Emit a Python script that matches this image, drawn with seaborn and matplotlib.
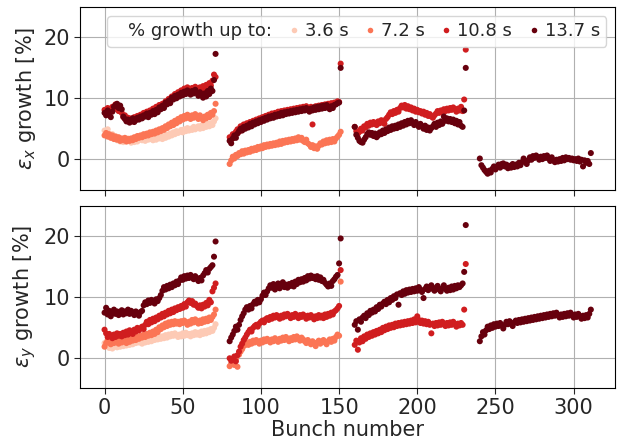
import numpy as np
import pandas as pd
import matplotlib
matplotlib.use("Agg")
import matplotlib.pyplot as plt
from matplotlib.lines import Line2D
import seaborn as sns

# DATOS
delays = ['3.6 s', '7.2 s', '10.8 s', '13.7 s']
train_starts = [0, 80, 160, 240]

# --- plano horizontal (eps_x) ---
ex_t1_36 = [4.7, 4.3, 4.9, 4.0, 3.6, 4.1, 3.4, 3.8, 3.1, 3.5, 2.9, 3.3,
            2.8, 3.2, 2.9, 3.4, 3.0, 2.7, 3.1, 2.8, 3.3, 2.9, 3.2, 3.5,
            3.1, 3.4, 3.0, 3.5, 3.2, 3.6, 3.3, 3.1, 3.5, 3.2, 3.6, 3.4,
            3.7, 3.3, 3.8, 3.5, 4.0, 3.7, 4.2, 3.9, 4.4, 4.1, 4.6, 4.3,
            4.5, 4.8, 4.4, 4.9, 4.6, 5.1, 4.7, 5.0, 4.8, 5.3, 4.9, 5.2,
            5.4, 5.0, 5.5, 5.1, 5.6, 5.3, 5.8, 5.4, 5.9, 5.6, 6.2, 6.7]
ex_t1_72 = [3.9, 4.3, 3.7, 4.1, 3.5, 3.9, 3.3, 3.7, 3.2, 3.6, 3.0, 3.4,
            3.1, 3.5, 2.9, 3.3, 3.0, 3.4, 3.1, 3.6, 3.3, 3.8, 3.5, 3.9,
            3.6, 4.1, 3.8, 4.2, 3.9, 4.4, 4.1, 4.5, 4.2, 4.7, 4.4, 4.9,
            4.6, 5.1, 4.8, 5.4, 5.1, 5.7, 5.4, 6.0, 5.6, 6.3, 5.9, 6.6,
            6.2, 6.9, 6.5, 7.1, 6.7, 7.3, 6.9, 6.6, 7.2, 6.8, 7.4, 7.0,
            6.6, 7.2, 6.8, 6.4, 7.0, 6.7, 7.3, 6.9, 7.6, 7.3, 7.9, 9.1]
ex_t1_108 = [8.1, 7.7, 8.4, 7.3, 8.0, 8.6, 8.2, 9.0, 8.5, 7.9, 8.3, 7.6,
             6.9, 7.2, 6.5, 6.8, 6.3, 6.7, 6.2, 6.9, 6.6, 7.1, 6.8, 7.3,
             7.0, 7.6, 7.2, 7.8, 7.4, 8.0, 7.7, 8.3, 7.9, 8.6, 8.2, 8.9,
             8.5, 9.1, 8.8, 9.5, 9.2, 9.9, 9.6, 10.3, 10.0, 10.7, 10.4, 11.0,
             10.7, 11.3, 10.9, 11.6, 11.2, 11.8, 11.4, 11.1, 11.7, 11.3, 11.9, 11.5,
             11.2, 11.8, 11.4, 12.0, 11.6, 12.2, 11.8, 12.5, 12.1, 12.9, 13.9, 13.5]
ex_t1_137 = [7.6, 7.2, 8.0, 7.5, 6.9, 7.8, 8.6, 8.9, 9.1, 8.4, 8.8, 8.2,
             7.0, 6.6, 6.2, 6.5, 6.0, 6.3, 6.7, 6.1, 6.4, 6.8, 6.5, 7.0,
             6.7, 7.2, 7.0, 7.5, 6.9, 7.6, 7.3, 7.9, 7.4, 8.1, 7.7, 8.5,
             8.2, 8.8, 8.4, 9.3, 9.0, 9.6, 9.2, 10.1, 9.8, 10.4, 10.0, 10.6,
             10.3, 10.9, 10.5, 11.1, 10.7, 11.3, 10.9, 10.6, 11.2, 10.8, 11.4, 10.9,
             10.4, 11.0, 10.6, 10.1, 10.8, 10.3, 11.2, 10.7, 11.6, 11.2, 13.0, 17.3]
ex_t2_72 = [-0.8, -0.2, 0.4, 0.1, 0.7, 0.5, 1.0, 0.8, 1.3, 0.9, 1.4, 1.1,
            1.5, 1.2, 1.7, 1.4, 1.8, 1.5, 2.0, 1.7, 2.1, 1.8, 2.3, 2.0,
            2.4, 2.1, 2.5, 2.2, 2.6, 2.3, 2.7, 2.4, 2.9, 2.5, 3.0, 2.7,
            3.1, 2.8, 3.2, 2.9, 3.3, 3.0, 3.4, 3.1, 3.6, 3.2, 3.5, 3.0,
            2.8, 3.2, 2.6, 2.4, 2.0, 2.3, 1.8, 2.1, 1.7, 2.2, 2.6, 2.4,
            2.9, 2.6, 3.1, 2.7, 3.2, 2.8, 3.3, 2.9, 3.4, 3.7, 4.0, 4.5]
ex_t2_108 = [3.6, 3.2, 4.1, 3.7, 4.5, 4.9, 4.5, 5.4, 5.1, 5.7, 5.3, 5.9,
             5.6, 6.1, 5.8, 6.3, 6.0, 6.5, 6.2, 6.7, 6.4, 6.9, 6.6, 7.1,
             6.8, 7.3, 7.0, 7.5, 7.2, 7.6, 7.3, 7.8, 7.5, 7.9, 7.6, 8.0,
             7.7, 8.1, 7.8, 8.2, 7.9, 8.3, 8.0, 8.4, 8.1, 8.5, 8.2, 8.6,
             8.3, 8.7, 8.4, 8.1, 8.6, 5.7, 8.2, 8.7, 8.3, 8.8, 8.4, 8.9,
             8.5, 9.0, 8.6, 9.1, 8.7, 9.2, 8.8, 9.3, 9.1, 9.5, 9.4, 15.7]
ex_t2_137 = [3.0, 2.6, 3.4, 3.9, 3.5, 4.2, 4.6, 5.0, 4.7, 5.3, 5.0, 5.5,
             5.2, 5.8, 5.4, 6.0, 5.7, 6.2, 5.9, 6.4, 6.1, 6.6, 6.3, 6.8,
             6.5, 7.0, 6.7, 7.1, 6.8, 7.3, 7.0, 7.4, 7.1, 7.6, 7.2, 7.7,
             7.4, 7.8, 7.5, 7.9, 7.6, 8.0, 7.7, 8.1, 7.8, 8.2, 7.9, 8.3,
             8.0, 8.4, 8.1, 7.8, 8.3, 8.0, 8.5, 8.1, 8.6, 8.2, 8.7, 8.3,
             8.8, 8.4, 8.9, 8.5, 8.2, 8.7, 8.4, 8.9, 9.0, 9.2, 9.3, 15.0]
ex_t3_108 = [5.3, 4.6, 4.2, 4.5, 5.0, 4.7, 5.4, 5.2, 5.8, 5.5, 6.0, 5.7,
             6.1, 5.8, 5.6, 6.2, 5.9, 6.4, 6.1, 5.8, 6.6, 6.9, 7.3, 7.7,
             7.4, 7.9, 7.6, 8.1, 7.8, 8.4, 8.8, 8.5, 8.9, 8.3, 8.7, 8.2,
             8.5, 8.0, 8.3, 7.8, 8.1, 7.7, 7.9, 7.5, 7.8, 7.3, 7.6, 7.1,
             7.4, 7.0, 6.8, 7.2, 7.5, 7.9, 7.6, 8.0, 7.7, 8.2, 7.9, 8.3,
             8.0, 8.4, 8.1, 8.5, 8.2, 7.8, 8.3, 8.0, 8.6, 7.9, 9.8, 18.0]
ex_t3_137 = [5.3, 4.0, 3.5, 3.0, 2.8, 2.7, 3.2, 3.6, 4.1, 4.4, 4.0, 4.3,
             3.8, 4.2, 3.6, 3.9, 4.4, 4.1, 4.7, 4.3, 4.9, 4.6, 5.2, 4.8,
             5.4, 5.0, 5.5, 5.1, 5.7, 5.3, 5.9, 5.5, 6.1, 5.7, 6.3, 5.9,
             6.4, 6.0, 5.6, 6.1, 5.7, 5.3, 5.8, 5.4, 5.0, 5.5, 4.8, 5.2,
             4.7, 5.1, 5.4, 5.8, 5.3, 6.0, 5.6, 6.2, 5.8, 7.0, 6.3, 6.7,
             6.2, 6.6, 6.1, 6.5, 5.9, 6.3, 5.7, 6.1, 5.5, 5.3, 8.0, 15.0]
ex_t4_137 = [0.1, -1.0, -1.4, -1.8, -2.1, -2.4, -1.9, -2.2, -1.6, -1.2, -1.7, -1.3,
             -0.9, -1.4, -0.8, -0.7, -1.2, -0.9, -1.5, -1.1, -1.4, -0.8, -1.3, -0.9,
             -1.2, -0.6, -1.0, -0.5, 0.1, -0.4, -0.8, -0.2, 0.3, -0.1, 0.5, 0.2,
             0.6, 0.3, -0.1, 0.4, 0.0, 0.5, 0.2, 0.6, 0.1, -0.3, 0.3, -0.2,
             -0.5, -0.1, -0.4, 0.0, -0.3, 0.2, -0.2, 0.3, 0.0, 0.2, -0.1, 0.1,
             -0.2, 0.0, -0.3, 0.1, -0.4, -0.1, -1.2, -0.2, -0.6, -0.3, -0.8, 1.0]

# --- plano vertical (eps_y) ---
ey_t1_36 = [2.4, 1.9, 2.3, 1.6, 2.0, 1.5, 1.9, 2.2, 1.7, 2.1, 1.8, 2.3,
            1.9, 2.4, 2.0, 2.5, 2.1, 2.6, 2.2, 2.8, 2.4, 2.9, 2.5, 2.7,
            2.3, 2.8, 2.5, 3.0, 2.6, 3.1, 2.7, 3.2, 2.9, 3.3, 3.0, 3.4,
            3.1, 3.5, 3.2, 3.7, 3.3, 3.8, 3.5, 3.9, 3.6, 4.0, 3.7, 3.4,
            3.8, 3.5, 4.0, 3.6, 4.1, 3.7, 3.9, 3.5, 4.0, 3.7, 4.2, 3.8,
            4.1, 3.7, 4.3, 3.9, 4.4, 4.0, 4.5, 4.2, 4.7, 4.4, 4.9, 5.5]
ey_t1_72 = [1.8, 2.4, 2.9, 2.5, 2.2, 2.8, 2.4, 3.0, 2.6, 2.3, 2.9, 2.5,
            3.1, 2.7, 2.4, 3.0, 2.6, 3.2, 2.8, 3.3, 2.9, 3.5, 3.1, 3.6,
            3.3, 3.8, 3.4, 3.9, 3.6, 4.1, 3.7, 4.3, 3.9, 4.6, 4.2, 5.0,
            4.7, 5.3, 5.0, 5.6, 5.2, 5.8, 5.4, 5.9, 5.5, 6.0, 5.6, 5.9,
            5.5, 6.0, 5.7, 6.1, 5.8, 5.4, 5.9, 5.6, 6.2, 5.8, 6.3, 5.9,
            5.6, 6.1, 5.7, 6.3, 5.9, 6.4, 6.0, 6.6, 6.2, 6.7, 7.1, 7.9]
ey_t1_108 = [4.6, 4.0, 3.4, 3.9, 3.5, 3.2, 3.8, 3.4, 4.0, 3.6, 3.9, 3.5,
             4.1, 3.7, 4.3, 3.8, 4.5, 4.1, 3.9, 4.6, 4.3, 4.9, 4.5, 4.8,
             5.1, 4.7, 5.4, 5.9, 5.5, 6.2, 5.8, 6.4, 6.0, 6.6, 6.3, 6.9,
             6.6, 7.2, 6.8, 7.4, 7.1, 7.7, 7.3, 7.9, 7.5, 8.1, 7.8, 8.3,
             8.0, 8.5, 8.2, 8.8, 8.4, 9.1, 9.4, 9.0, 9.3, 8.7, 8.9, 8.5,
             8.2, 8.6, 8.1, 8.7, 8.4, 9.0, 8.6, 9.5, 9.1, 10.9, 11.5, 12.2]
ey_t1_137 = [7.4, 8.2, 7.1, 7.7, 6.8, 7.3, 7.9, 7.2, 7.6, 7.0, 7.5, 7.8,
             7.1, 7.6, 7.3, 7.9, 7.2, 7.7, 7.4, 7.0, 7.6, 7.3, 6.9, 7.5,
             7.7, 8.6, 9.1, 8.8, 9.4, 9.0, 9.5, 9.2, 8.9, 9.6, 9.3, 9.8,
             10.3, 11.0, 11.6, 11.2, 11.8, 11.4, 12.0, 11.6, 12.2, 11.9, 12.5, 12.1,
             12.7, 13.2, 12.8, 13.4, 13.0, 13.5, 13.1, 13.6, 13.2, 12.9, 13.4, 13.0,
             12.6, 13.1, 12.7, 13.5, 13.9, 14.4, 14.0, 14.6, 14.9, 15.2, 16.6, 19.1]
ey_t2_72 = [-1.4, -1.0, -0.6, -1.2, -0.2, -1.5, 0.5, 1.0, 1.4, 1.9, 2.1, 2.4,
            2.1, 2.6, 2.3, 2.8, 2.5, 2.9, 2.6, 2.3, 2.8, 2.5, 3.0, 2.7,
            3.1, 2.8, 2.5, 3.0, 2.7, 3.2, 2.9, 2.6, 3.1, 2.8, 3.3, 2.9,
            3.4, 3.1, 2.7, 3.2, 2.9, 3.4, 3.0, 3.5, 3.2, 2.8, 3.3, 3.0,
            2.7, 2.4, 2.9, 2.5, 2.2, 2.7, 2.4, 1.9, 2.5, 2.8, 2.3, 2.6,
            2.9, 2.5, 2.2, 2.7, 3.0, 2.6, 3.1, 2.8, 3.4, 3.8, 3.6, 12.5]
ey_t2_108 = [-0.1, -0.5, -0.3, 0.2, -0.6, 0.4, 1.0, 1.8, 2.3, 2.9, 3.3, 3.8,
             4.2, 4.6, 4.3, 4.9, 5.2, 5.4, 5.1, 5.6, 5.9, 6.1, 5.8, 6.3,
             6.5, 6.2, 6.7, 6.4, 6.9, 6.6, 7.0, 6.7, 6.4, 6.9, 6.6, 7.1,
             6.8, 7.2, 6.9, 6.5, 7.0, 6.7, 7.2, 6.8, 6.5, 7.0, 6.7, 7.1,
             6.8, 6.4, 6.9, 6.6, 7.0, 6.7, 6.3, 6.8, 6.5, 7.0, 6.6, 6.9,
             6.5, 7.1, 6.7, 7.2, 6.9, 7.4, 7.1, 7.6, 7.8, 8.1, 8.5, 14.4]
ey_t2_137 = [2.7, 3.3, 3.8, 4.4, 5.1, 4.6, 5.4, 6.2, 6.8, 7.3, 7.9, 8.3,
             7.9, 8.5, 8.1, 8.8, 9.2, 8.9, 9.5, 9.1, 9.6, 10.2, 10.7, 10.3,
             10.9, 11.4, 11.9, 11.5, 12.1, 11.2, 11.7, 12.2, 11.4, 11.8, 12.4, 11.6,
             12.0, 11.5, 12.1, 11.8, 12.3, 11.7, 12.5, 12.1, 12.8, 12.4, 12.9, 12.5,
             13.1, 12.7, 13.4, 13.0, 13.5, 13.1, 13.3, 12.9, 13.4, 12.8, 13.2, 12.6,
             12.8, 12.3, 12.0, 11.7, 12.2, 11.8, 12.6, 12.9, 13.3, 13.6, 15.5, 19.6]
ey_t3_108 = [2.1, 2.8, 1.3, 2.5, 3.2, 2.7, 3.5, 3.1, 3.8, 3.4, 4.0, 3.6,
             4.2, 3.8, 4.4, 4.0, 4.6, 4.2, 4.9, 4.5, 5.1, 4.7, 5.3, 4.9,
             5.4, 5.0, 5.6, 5.2, 5.7, 5.3, 5.8, 5.4, 5.9, 5.5, 6.0, 5.6,
             6.1, 5.7, 6.3, 5.8, 6.8, 6.2, 5.7, 6.1, 5.6, 6.0, 5.5, 5.9,
             5.4, 4.0, 5.6, 5.2, 5.7, 5.3, 5.8, 5.4, 5.9, 5.5, 5.2, 5.7,
             5.3, 5.8, 5.4, 5.9, 5.5, 5.1, 5.6, 5.3, 5.7, 5.4, 7.9, 15.4]
ey_t3_137 = [5.4, 6.0, 4.6, 6.3, 5.9, 6.6, 6.9, 6.5, 7.3, 7.0, 7.7, 7.4,
             7.9, 7.6, 8.3, 8.0, 8.7, 8.4, 8.9, 9.2, 8.8, 9.5, 9.1, 9.8,
             9.5, 10.1, 9.8, 10.4, 8.7, 10.6, 10.3, 10.9, 10.5, 11.1, 10.7, 11.2,
             10.8, 11.3, 10.9, 11.4, 11.0, 11.6, 11.2, 10.8, 9.8, 11.3, 11.7, 11.1,
             11.6, 11.9, 11.3, 11.0, 11.5, 11.8, 11.2, 10.9, 11.4, 11.9, 11.3, 11.0,
             11.5, 11.1, 11.7, 11.2, 11.8, 11.4, 11.9, 11.6, 11.9, 12.2, 14.1, 21.8]
ey_t4_137 = [2.7, 3.5, 4.2, 3.8, 4.5, 5.1, 4.7, 5.3, 4.9, 5.5, 5.1, 5.6,
             5.2, 5.7, 5.3, 4.8, 5.4, 5.9, 5.5, 6.0, 5.6, 5.2, 5.8, 6.1,
             5.7, 6.2, 5.8, 6.3, 5.9, 6.4, 6.0, 6.5, 6.1, 6.6, 6.2, 6.7,
             6.3, 6.8, 6.4, 6.9, 6.5, 7.0, 6.6, 7.1, 6.7, 7.2, 6.8, 7.3,
             6.9, 7.4, 7.0, 6.6, 7.1, 6.7, 7.2, 6.8, 7.3, 6.9, 7.4, 7.0,
             6.6, 7.1, 6.7, 7.2, 6.8, 6.4, 6.9, 6.5, 7.0, 6.6, 7.2, 7.9]

# (tren, retardo, valores)
series_x = [(0, '3.6 s', ex_t1_36), (0, '7.2 s', ex_t1_72),
            (0, '10.8 s', ex_t1_108), (0, '13.7 s', ex_t1_137),
            (1, '7.2 s', ex_t2_72), (1, '10.8 s', ex_t2_108), (1, '13.7 s', ex_t2_137),
            (2, '10.8 s', ex_t3_108), (2, '13.7 s', ex_t3_137),
            (3, '13.7 s', ex_t4_137)]
series_y = [(0, '3.6 s', ey_t1_36), (0, '7.2 s', ey_t1_72),
            (0, '10.8 s', ey_t1_108), (0, '13.7 s', ey_t1_137),
            (1, '7.2 s', ey_t2_72), (1, '10.8 s', ey_t2_108), (1, '13.7 s', ey_t2_137),
            (2, '10.8 s', ey_t3_108), (2, '13.7 s', ey_t3_137),
            (3, '13.7 s', ey_t4_137)]


def to_frame(series):
    parts = []
    for train, delay, vals in series:
        bunch = train_starts[train] + np.arange(len(vals))
        parts.append(pd.DataFrame({'bunch': bunch, 'growth': vals, 'delay': delay}))
    return pd.concat(parts, ignore_index=True)


df_x = to_frame(series_x)
df_y = to_frame(series_y)

# ESTILO
sns.set_style("ticks", {"axes.grid": True, "grid.color": "#b0b0b0",
                        "axes.edgecolor": "black"})
plt.rcParams['font.family'] = ['DejaVu Sans']

cmap = sns.color_palette("Reds", as_cmap=True)
colors = [tuple(c) for c in cmap(np.linspace(0.2, 1.0, 4))]
palette = dict(zip(delays, colors))

# FIGURA
fig, axes = plt.subplots(2, 1, sharex=True, figsize=(6.22, 4.41), dpi=100)
fig.subplots_adjust(left=0.129, right=0.989, top=0.984, bottom=0.12, hspace=0.088)

for ax, df, lab in zip(axes, [df_x, df_y],
                       [r'$\varepsilon_x$ growth [%]', r'$\varepsilon_y$ growth [%]']):
    sns.scatterplot(data=df, x='bunch', y='growth', hue='delay', hue_order=delays,
                    palette=palette, s=19, linewidth=0, ax=ax, legend=False)
    ax.set_ylim(-5, 25)
    ax.set_yticks([0, 10, 20])
    ax.set_ylabel(lab, fontsize=15)
    ax.set_xlabel('')
    ax.tick_params(labelsize=15, length=4)
    ax.set_axisbelow(True)
    ax.grid(True, color='#b0b0b0', linewidth=0.8)

axes[1].set_xlabel('Bunch number', fontsize=15, labelpad=1)

# LEYENDA
handles = [Line2D([], [], linestyle='none', marker='')]
handles += [Line2D([], [], linestyle='none', marker='o', markersize=4,
                   markeredgewidth=0, color=c) for c in colors]
labels = ['% growth up to:'] + delays
axes[0].legend(handles, labels, ncol=5, loc='upper right', fontsize=13,
               handlelength=0.4, handletextpad=0.4, columnspacing=1.0,
               borderpad=0.35, frameon=True)

plt.savefig('out.png', dpi=100)
plt.close()
